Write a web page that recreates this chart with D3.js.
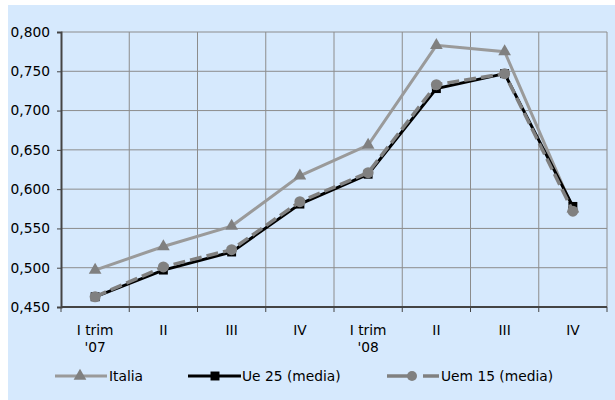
<!DOCTYPE html>
<html>
<head>
<meta charset="utf-8">
<script src="https://cdn.jsdelivr.net/npm/d3@7"></script>
<style>
  body { margin: 0; background: white; }
  svg text { font-family: "DejaVu Sans", Verdana, sans-serif; font-size: 13.8px; fill: #000; }
  .gridline { stroke: #8c8c8c; stroke-width: 1; }
</style>
</head>
<body>
<div id="grafico"></div>
<script>
var trimestri = ["I trim|'07", "II", "III", "IV", "I trim|'08", "II", "III", "IV"];
var italia = [0.497, 0.527, 0.553, 0.617, 0.656, 0.783, 0.775, 0.575];
var ue25 = [0.463, 0.497, 0.520, 0.581, 0.619, 0.728, 0.747, 0.578];
var uem15 = [0.463, 0.501, 0.523, 0.584, 0.621, 0.733, 0.747, 0.572];
var yTicks = [0.45, 0.5, 0.55, 0.6, 0.65, 0.7, 0.75, 0.8];

var margin = { top: 32, right: 8, bottom: 93, left: 61 };
var width = 615 - margin.left - margin.right;
var height = 400 - margin.top - margin.bottom;

var root = d3.select("#grafico")
  .append("svg")
  .attr("width", 615)
  .attr("height", 400);

root.append("rect")
  .attr("x", 8).attr("y", 5)
  .attr("width", 607).attr("height", 395)
  .attr("fill", "#d6e9fd");

var svg = root.append("g")
  .attr("transform", "translate(" + margin.left + "," + margin.top + ")");

var x = d3.scaleBand().domain(d3.range(trimestri.length)).range([0, width]);
var y = d3.scaleLinear().domain([0.45, 0.8]).range([height, 0]);
var cx = function (i) { return x(i) + x.bandwidth() / 2; };

// griglia
svg.append("g").selectAll("line")
  .data(yTicks.slice(1))
  .enter().append("line")
  .attr("class", "gridline")
  .attr("x1", 0).attr("x2", width)
  .attr("y1", d => y(d)).attr("y2", d => y(d));

svg.append("g").selectAll("line")
  .data(d3.range(1, trimestri.length + 1))
  .enter().append("line")
  .attr("class", "gridline")
  .attr("x1", d => d * x.step()).attr("x2", d => d * x.step())
  .attr("y1", 0).attr("y2", height);

// asse y
var yAxis = svg.append("g")
  .call(d3.axisLeft(y).tickValues(yTicks).tickSize(4).tickFormat(d => d3.format(".3f")(d).replace(".", ",")));
yAxis.select(".domain").attr("stroke", "#444").attr("stroke-width", 2);
yAxis.selectAll(".tick line").attr("stroke", "#444");
yAxis.selectAll("text").attr("x", -11).style("font-size", "13.8px").attr("font-family", null);

// asse x
var xAxis = svg.append("g").attr("transform", "translate(0," + height + ")");
xAxis.append("line").attr("x1", 0).attr("x2", width).attr("stroke", "#444").attr("stroke-width", 2);
xAxis.selectAll("line.tk")
  .data(d3.range(0, trimestri.length + 1))
  .enter().append("line")
  .attr("class", "tk")
  .attr("x1", d => d * x.step()).attr("x2", d => d * x.step())
  .attr("y1", 0).attr("y2", 5)
  .attr("stroke", "#444");
var xl = xAxis.selectAll("text")
  .data(trimestri)
  .enter().append("text")
  .attr("text-anchor", "middle")
  .attr("transform", (d, i) => "translate(" + cx(i) + ",28)");
xl.selectAll("tspan")
  .data(d => d.split("|"))
  .enter().append("tspan")
  .attr("x", 0)
  .attr("dy", (d, i) => i == 0 ? 0 : 17)
  .text(d => d);

var line = d3.line().x((d, i) => cx(i)).y(d => y(d));

var triangolo = d3.symbol().type(d3.symbolTriangle).size(70);
var quadrato = d3.symbol().type(d3.symbolSquare).size(80);

// Italia
svg.append("path").datum(italia)
  .attr("d", line).attr("fill", "none")
  .attr("stroke", "#9a9a9a").attr("stroke-width", 3);
svg.append("g").selectAll("path")
  .data(italia).enter().append("path")
  .attr("d", triangolo)
  .attr("transform", (d, i) => "translate(" + cx(i) + "," + y(d) + ")")
  .attr("fill", "#808080");

// Ue 25
svg.append("path").datum(ue25)
  .attr("d", line).attr("fill", "none")
  .attr("stroke", "#000").attr("stroke-width", 3);
svg.append("g").selectAll("path")
  .data(ue25).enter().append("path")
  .attr("d", quadrato)
  .attr("transform", (d, i) => "translate(" + cx(i) + "," + y(d) + ")")
  .attr("fill", "#000");

// Uem 15
svg.append("path").datum(uem15)
  .attr("d", line).attr("fill", "none")
  .attr("stroke", "#808080").attr("stroke-width", 3.5)
  .attr("stroke-dasharray", "12,5");
svg.append("g").selectAll("circle")
  .data(uem15).enter().append("circle")
  .attr("cx", (d, i) => cx(i)).attr("cy", d => y(d))
  .attr("r", 5.5)
  .attr("fill", "#808080");

// legenda
var leg = root.append("g").attr("transform", "translate(0,376)");
leg.append("line").attr("x1", 55).attr("x2", 107).attr("stroke", "#9a9a9a").attr("stroke-width", 3);
leg.append("path").attr("d", triangolo).attr("transform", "translate(80,0)").attr("fill", "#808080");
leg.append("text").attr("x", 109).attr("y", 5).text("Italia");

leg.append("line").attr("x1", 188).attr("x2", 241).attr("stroke", "#000").attr("stroke-width", 3);
leg.append("path").attr("d", quadrato).attr("transform", "translate(215,0)").attr("fill", "#000");
leg.append("text").attr("x", 242).attr("y", 5).text("Ue 25 (media)");

leg.append("line").attr("x1", 387).attr("x2", 414).attr("stroke", "#808080").attr("stroke-width", 3.5);
leg.append("line").attr("x1", 423).attr("x2", 439).attr("stroke", "#808080").attr("stroke-width", 3.5);
leg.append("circle").attr("cx", 412).attr("cy", 0).attr("r", 5).attr("fill", "#808080");
leg.append("text").attr("x", 441).attr("y", 5).text("Uem 15 (media)");
</script>
</body>
</html>
